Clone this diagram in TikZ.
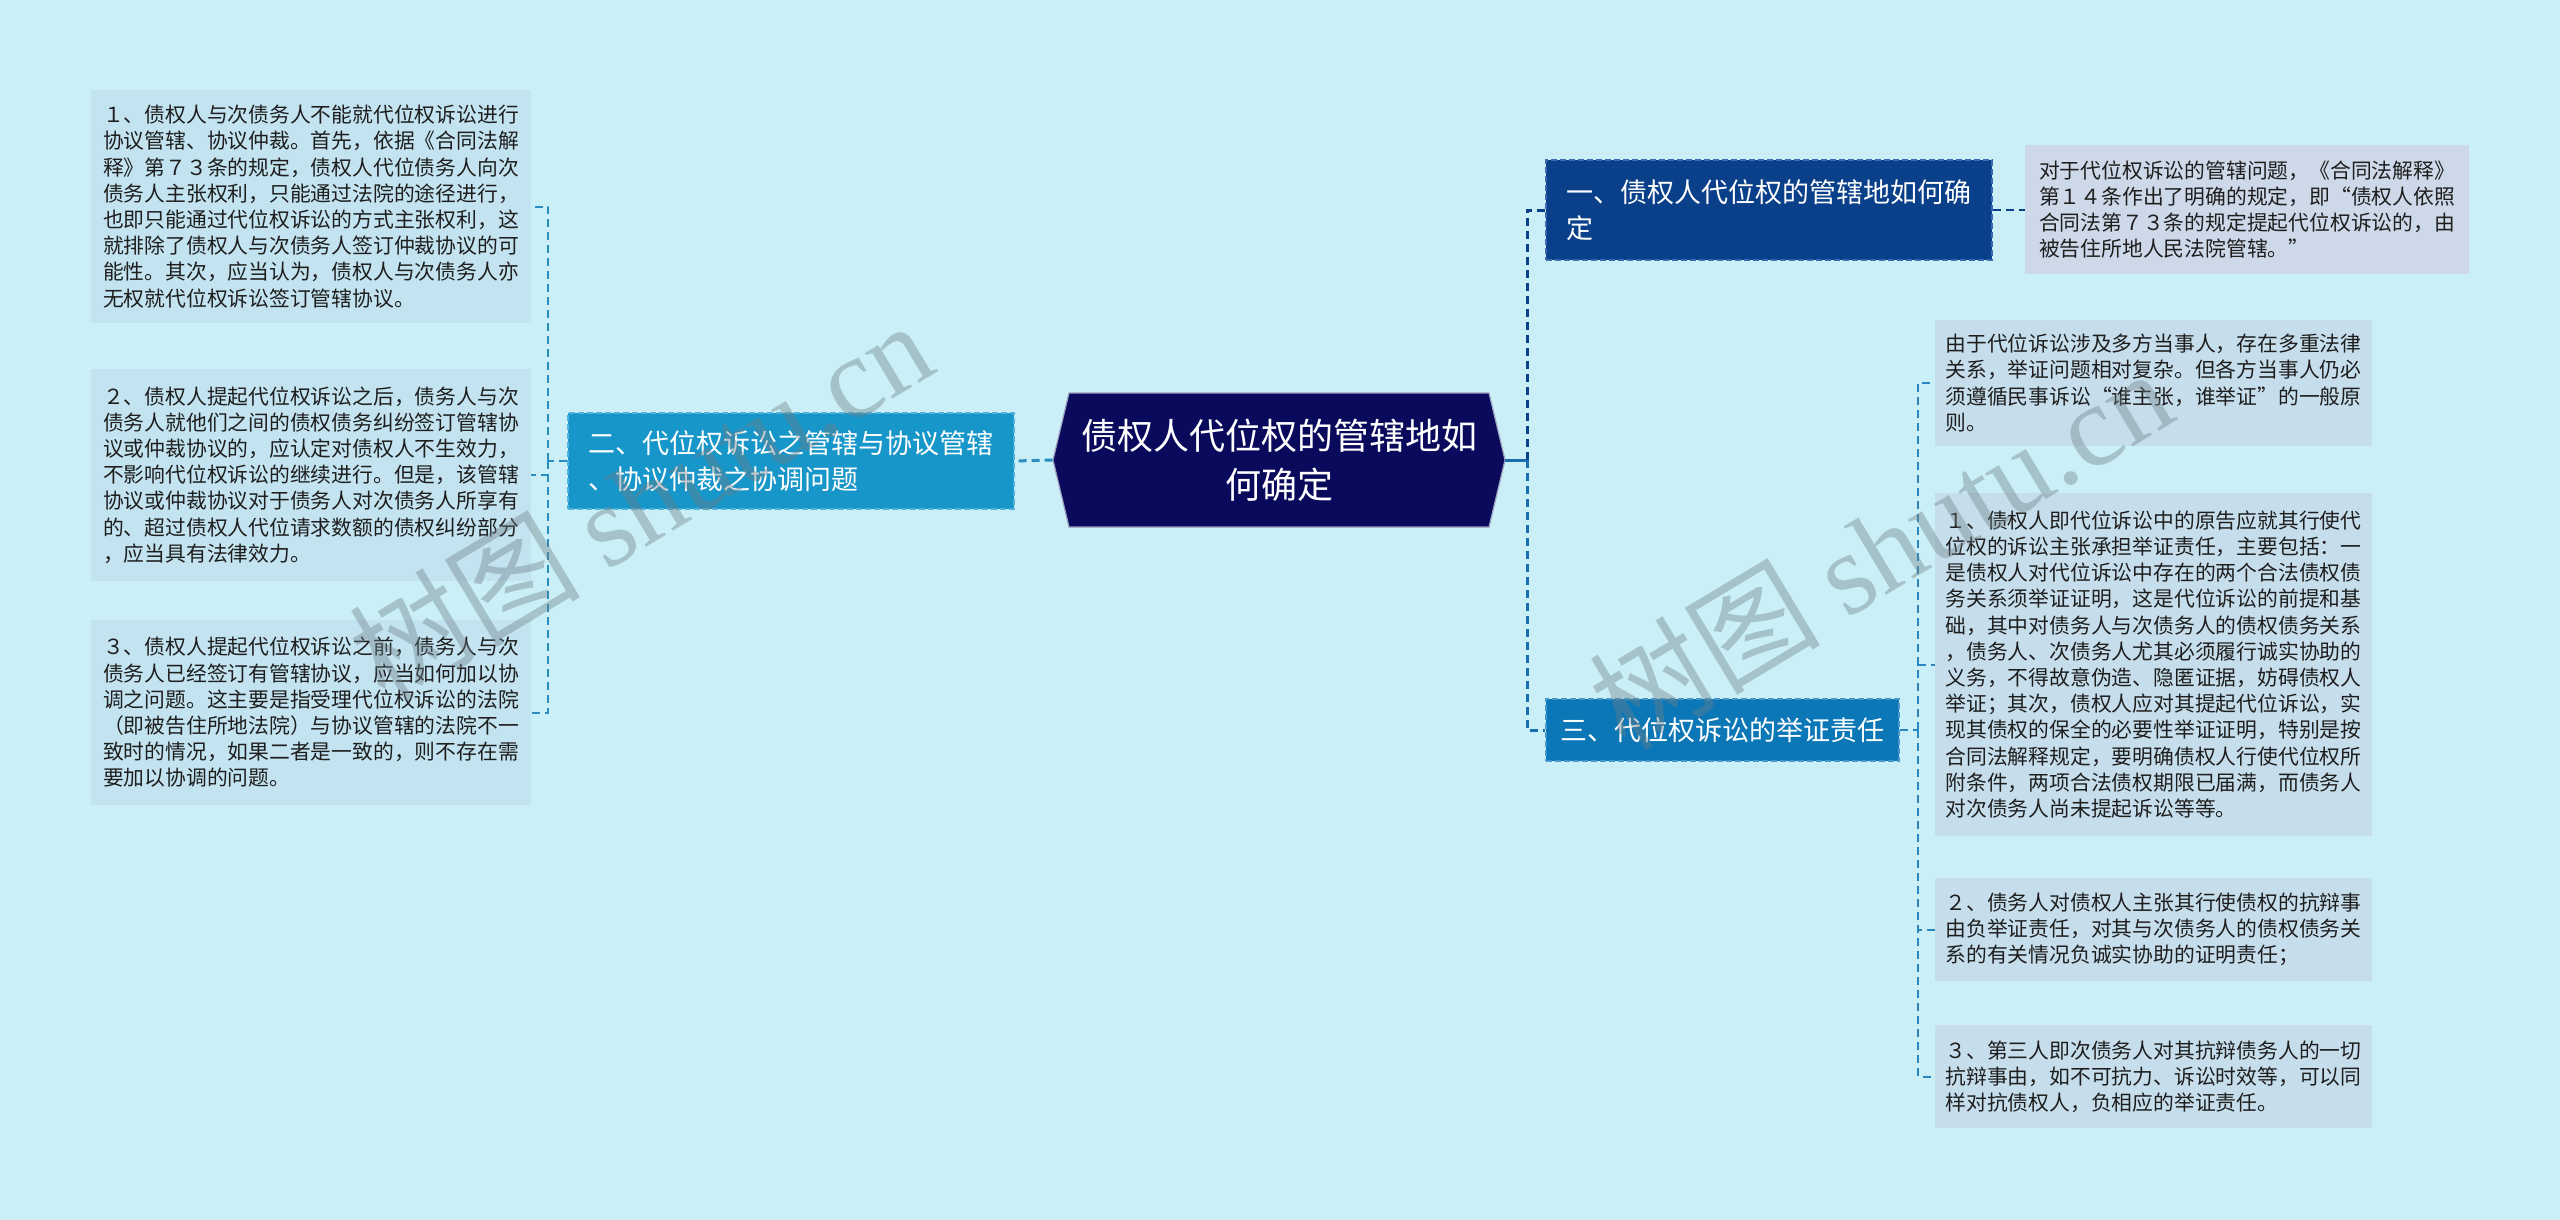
\documentclass[tikz,border=0pt]{standalone}
\usepackage{fontspec}
\setmainfont{Noto Sans CJK SC}
\newfontfamily\wmfont{Liberation Serif}
\usetikzlibrary{calc}
\definecolor{bgc}{HTML}{CAEFF7}
\definecolor{leafL}{HTML}{C2E3EF}
\definecolor{leafR}{HTML}{C6DEEC}
\definecolor{leafT}{HTML}{CDD8E8}
\definecolor{rootc}{HTML}{0A0A5C}
\definecolor{bonec}{HTML}{0A3F8A}
\definecolor{bonebd}{HTML}{3A6AB0}
\definecolor{btwoc}{HTML}{1796C9}
\definecolor{btwobd}{HTML}{52B2DC}
\definecolor{bthreec}{HTML}{0B77B7}
\definecolor{bthreebd}{HTML}{4698CC}
\definecolor{linel}{HTML}{2A8EC0}
\definecolor{liner}{HTML}{1A6FB0}
\definecolor{linet}{HTML}{2A86BE}
\definecolor{txt}{HTML}{1E1E1E}
\definecolor{wmc}{HTML}{6E7F86}
\begin{document}
\begin{tikzpicture}[x=0.5pt,y=-0.5pt,
  leafbox/.style={inner sep=0pt, minimum width=220pt, align=left, text=txt,
    font=\fontsize{10.4pt}{13.1pt}\selectfont},
  branchbox/.style={inner sep=0pt, align=left, text=white, draw, line width=0.8pt,
    dash pattern=on 3pt off 1.5pt, font=\fontsize{13.5pt}{18pt}\selectfont},
  conn/.style={line width=1pt, dash pattern=on 4pt off 2.5pt},
  wm/.style={text=wmc, opacity=0.4, rotate=31, font=\fontsize{58pt}{58pt}\selectfont}
]
\useasboundingbox (0,0) rectangle (2560,1220);
\fill[bgc] (0,0) rectangle (2560,1220);

% root
\fill[rootc] (1053,460) -- (1069,393) -- (1489,393) -- (1505,460) -- (1489,527) -- (1069,527) -- cycle;
\draw[white!60!rootc, line width=0.6pt] (1053,460) -- (1069,393) -- (1489,393) -- (1505,460) -- (1489,527) -- (1069,527) -- cycle;
\node[inner sep=0pt, minimum width=226pt, minimum height=67pt, align=center, text=white,
  font=\fontsize{18pt}{24.5pt}\selectfont] (root) at (1279,460) {债权人代位权的管辖地如\\何确定};

% branches
\node[branchbox, fill=btwoc, draw=btwobd, minimum width=223pt, minimum height=48pt] (b2) at (791,461)
  {二、代位权诉讼之管辖与协议管辖\\、协议仲裁之协调问题};
\node[branchbox, fill=bonec, draw=bonebd, minimum width=223pt, minimum height=50pt] (b1) at (1769,210)
  {一、债权人代位权的管辖地如何确\\定\phantom{债权人代位权的管辖地如何确}};
\node[branchbox, fill=bthreec, draw=bthreebd, minimum width=176.5pt, minimum height=31pt] (b3) at (1722.5,730)
  {三、代位权诉讼的举证责任};

% left leaves
\node[leafbox, fill=leafL, minimum height=116.5pt] (l1) at (311,206.5)
  {１、债权人与次债务人不能就代位权诉讼进行\\协议管辖、协议仲裁。首先，依据《合同法解\\释》第７３条的规定，债权人代位债务人向次\\债务人主张权利，只能通过法院的途径进行，\\也即只能通过代位权诉讼的方式主张权利，这\\就排除了债权人与次债务人签订仲裁协议的可\\能性。其次，应当认为，债权人与次债务人亦\\无权就代位权诉讼签订管辖协议。};
\node[leafbox, fill=leafL, minimum height=106pt] (l2) at (311,475)
  {２、债权人提起代位权诉讼之后，债务人与次\\债务人就他们之间的债权债务纠纷签订管辖协\\议或仲裁协议的，应认定对债权人不生效力，\\不影响代位权诉讼的继续进行。但是，该管辖\\协议或仲裁协议对于债务人对次债务人所享有\\的、超过债权人代位请求数额的债权纠纷部分\\，应当具有法律效力。};
\node[leafbox, fill=leafL, minimum height=92.5pt] (l3) at (311,712.5)
  {３、债权人提起代位权诉讼之前，债务人与次\\债务人已经签订有管辖协议，应当如何加以协\\调之问题。这主要是指受理代位权诉讼的法院\\（即被告住所地法院）与协议管辖的法院不一\\致时的情况，如果二者是一致的，则不存在需\\要加以协调的问题。};

% right leaves
\node[leafbox, fill=leafT, minimum width=222pt, minimum height=64.5pt] (r1) at (2247,209.5)
  {对于代位权诉讼的管辖问题，《合同法解释》\\第１４条作出了明确的规定，即“债权人依照\\合同法第７３条的规定提起代位权诉讼的，由\\被告住所地人民法院管辖。”};
\node[leafbox, fill=leafR, minimum width=218.5pt, minimum height=63pt] (r3a) at (2153.5,383)
  {由于代位诉讼涉及多方当事人，存在多重法律\\关系，举证问题相对复杂。但各方当事人仍必\\须遵循民事诉讼“谁主张，谁举证”的一般原\\则。};
\node[leafbox, fill=leafR, minimum width=218.5pt, minimum height=171.5pt] (r3b) at (2153.5,664.5)
  {１、债权人即代位诉讼中的原告应就其行使代\\位权的诉讼主张承担举证责任，主要包括：一\\是债权人对代位诉讼中存在的两个合法债权债\\务关系须举证证明，这是代位诉讼的前提和基\\础，其中对债务人与次债务人的债权债务关系\\，债务人、次债务人尤其必须履行诚实协助的\\义务，不得故意伪造、隐匿证据，妨碍债权人\\举证；其次，债权人应对其提起代位诉讼，实\\现其债权的保全的必要性举证证明，特别是按\\合同法解释规定，要明确债权人行使代位权所\\附条件，两项合法债权期限已届满，而债务人\\对次债务人尚未提起诉讼等等。};
\node[leafbox, fill=leafR, minimum width=218.5pt, minimum height=51.5pt] (r3c) at (2153.5,929.5)
  {２、债务人对债权人主张其行使债权的抗辩事\\由负举证责任，对其与次债务人的债权债务关\\系的有关情况负诚实协助的证明责任；};
\node[leafbox, fill=leafR, minimum width=218.5pt, minimum height=51.5pt] (r3d) at (2153.5,1076.5)
  {３、第三人即次债务人对其抗辩债务人的一切\\抗辩事由，如不可抗力、诉讼时效等，可以同\\样对抗债权人，负相应的举证责任。};

% junctions
\coordinate (jr) at (1527,460);
\coordinate (jl) at (548,461);
\coordinate (jt) at (1918,730);

% connectors
\draw[line width=1.5pt, liner] (root.east) -- (jr);
\draw[conn, line width=1.5pt, bonec] (jr) |- (b1.west);
\draw[conn, line width=1.5pt, liner] (jr) |- (b3.west);
\draw[conn, bonec] (b1.east) -- (b1.east -| r1.west);
\draw[conn, linet] (b3.east) -- (jt);
\draw[conn, linet] (jt) |- (r3a.west);
\draw[conn, linet] (jt) |- (r3b.west);
\draw[conn, linet] (jt) |- (r3c.west);
\draw[conn, linet] (jt) |- (r3d.west);
\draw[conn, line width=1.5pt, linel] (root.west) -- (b2.east);
\draw[conn, linel] (b2.west) -- (jl);
\draw[conn, linel] (jl) |- (l1.east);
\draw[conn, linel] (jl) |- (l2.east);
\draw[conn, linel] (jl) |- (l3.east);

% watermarks
\node[wm] (wm1) at (640,500) {树图 {\wmfont shutu.cn}};
\node[wm] (wm2) at (1880,548) {树图 {\wmfont shutu.cn}};
\end{tikzpicture}
\end{document}
